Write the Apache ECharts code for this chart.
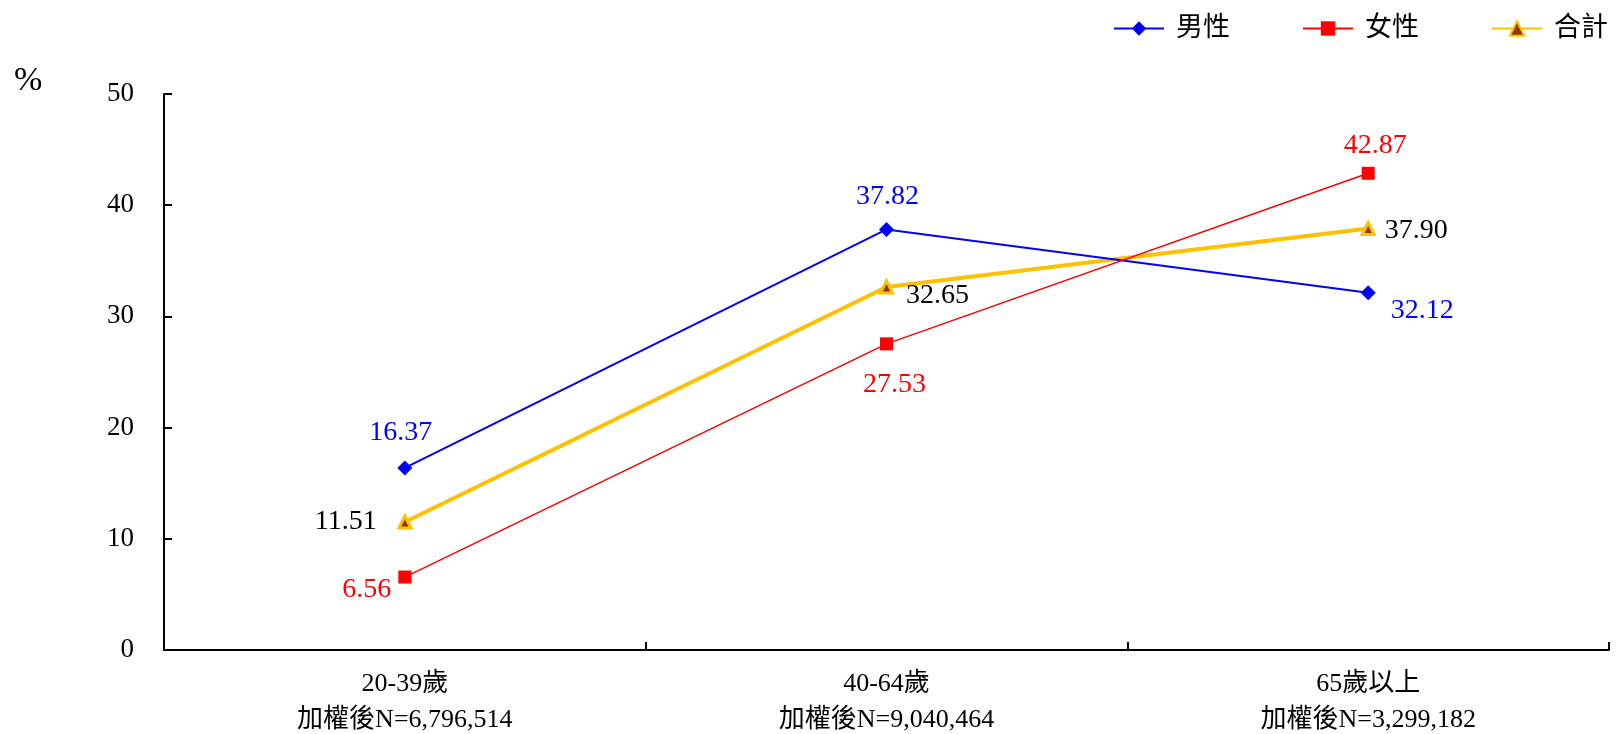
<!DOCTYPE html>
<html><head><meta charset="utf-8">
<script src="https://cdn.jsdelivr.net/npm/echarts@6/dist/echarts.min.js"></script>
<style>html,body{margin:0;padding:0;background:#fff}#c{width:1618px;height:734px}</style>
</head><body><div id="c"></div>
<script>
const categories = ['20-39歲\n加權後N=6,796,514', '40-64歲\n加權後N=9,040,464', '65歲以上\n加權後N=3,299,182'];
const maleValues = [16.37, 37.82, 32.12];
const femaleValues = [6.56, 27.53, 42.87];
const totalValues = [11.51, 32.65, 37.90];
const seriesNames = ['男性', '女性', '合計'];
const yTicks = [0, 10, 20, 30, 40, 50];

const maleOffsets = [[-4, -35], [1, -33], [54, 18]];
const femaleOffsets = [[-38, 13], [8, 41], [7, -28]];
const totalOffsets = [[-59, 0], [51, 9], [48, 2]];

const serif = "'Liberation Serif', 'Noto Sans CJK TC', serif";

function build(values, offsets, color) {
  return values.map((v, i) => ({
    value: v,
    label: { show: true, position: 'inside', offset: offsets[i], color: color,
      fontFamily: serif, fontSize: 28, formatter: p => p.value.toFixed(2) }
  }));
}

const chart = echarts.init(document.getElementById('c'), null, { renderer: 'canvas' });
chart.setOption({
  animation: false,
  backgroundColor: '#fff',
  grid: { left: 164, right: 9, top: 94, bottom: 84, containLabel: false, outerBoundsMode: 'none' },
  legend: {
    right: 5, top: 10, itemWidth: 50, itemHeight: 18, itemGap: 72,
    textStyle: { fontFamily: serif, fontSize: 27, color: '#000', padding: [0, 0, 0, 7] },
    data: seriesNames
  },
  graphic: [{ type: 'text', left: 14, top: 64, style: { text: '%', fontFamily: serif, fontSize: 34, fill: '#000' } }],
  xAxis: {
    type: 'category', data: categories, boundaryGap: true,
    axisLine: { lineStyle: { color: '#000', width: 2 } },
    axisTick: { show: true, inside: true, length: 8, lineStyle: { color: '#000', width: 2 }, interval: 0 },
    axisLabel: { fontFamily: serif, fontSize: 26, color: '#000', lineHeight: 36, margin: 16, interval: 0 }
  },
  yAxis: {
    type: 'value', min: 0, max: 50, interval: 10,
    axisLine: { show: true, lineStyle: { color: '#000', width: 2 } },
    axisTick: { show: true, inside: true, length: 8, lineStyle: { color: '#000', width: 2 } },
    axisLabel: { fontFamily: serif, fontSize: 27, color: '#000', margin: 30,
      formatter: v => yTicks.includes(v) ? String(v) : '' },
    splitLine: { show: false }
  },
  series: [
    { name: seriesNames[0], type: 'line', data: build(maleValues, maleOffsets, '#0000FF'),
      symbol: 'diamond', symbolSize: 15, color: '#0000FF',
      lineStyle: { color: '#0000FF', width: 2 }, itemStyle: { color: '#0000FF' }, z: 3 },
    { name: seriesNames[1], type: 'line', data: build(femaleValues, femaleOffsets, '#FF0000'),
      symbol: 'rect', symbolSize: 13, color: '#FF0000',
      lineStyle: { color: '#FF0000', width: 1.5 }, itemStyle: { color: '#FF0000' }, z: 3 },
    { name: seriesNames[2], type: 'line', data: build(totalValues, totalOffsets, '#000000'),
      symbol: 'triangle', symbolSize: 12, color: '#FFC000',
      lineStyle: { color: '#FFC000', width: 4 },
      itemStyle: { color: '#8B3A00', borderColor: '#FFC000', borderWidth: 3 }, z: 2 }
  ]
});
</script></body></html>
